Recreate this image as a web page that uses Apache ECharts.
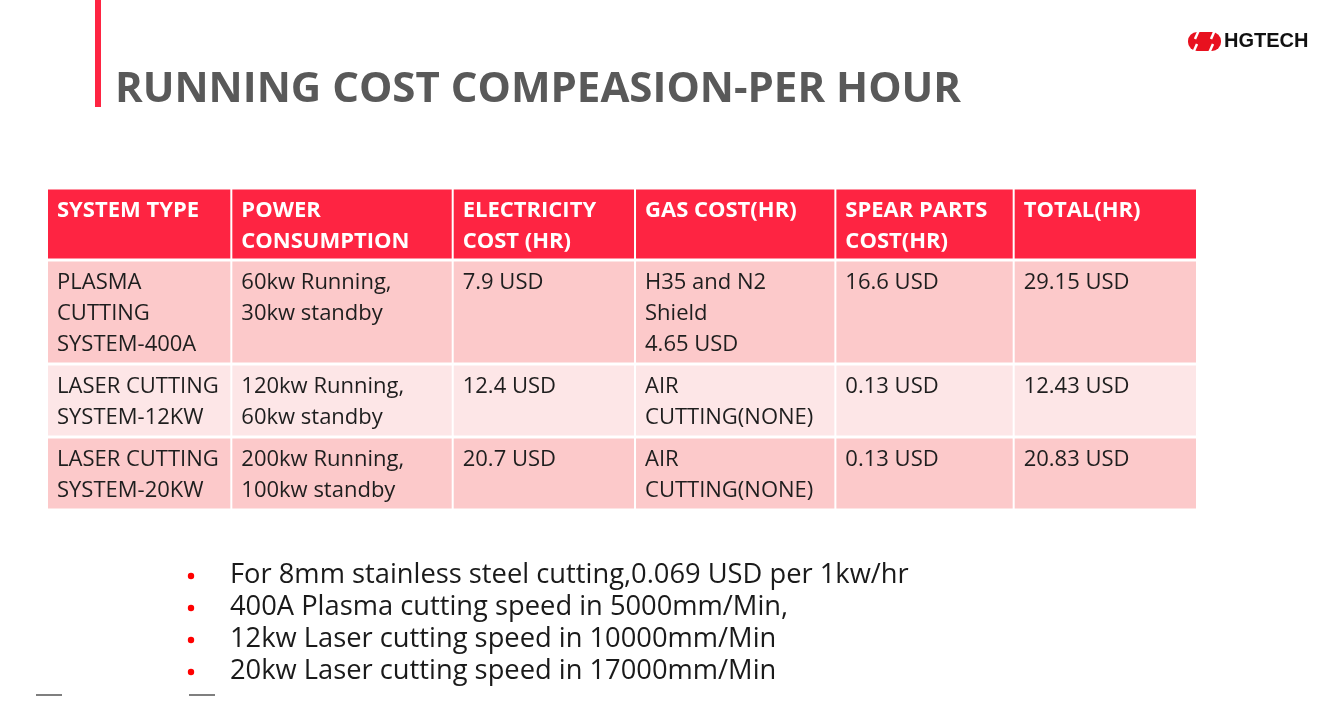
<!DOCTYPE html>
<html>
<head>
<meta charset="utf-8">
<title>Running cost comparison</title>
<script src="https://cdn.jsdelivr.net/npm/echarts@6/dist/echarts.min.js"></script>
<style>
  html, body { margin: 0; padding: 0; background: #fff; }
  #main { width: 1317px; height: 701px; }
</style>
</head>
<body>
<div id="main"></div>
<script>
// 表格内容
var titleText = 'RUNNING COST COMPEASION-PER HOUR';
var headers = ['SYSTEM TYPE', 'POWER\nCONSUMPTION', 'ELECTRICITY\nCOST (HR)', 'GAS COST(HR)', 'SPEAR PARTS\nCOST(HR)', 'TOTAL(HR)'];
var systemTypes = ['PLASMA\nCUTTING\nSYSTEM-400A', 'LASER CUTTING\nSYSTEM-12KW', 'LASER CUTTING\nSYSTEM-20KW'];
var powerConsumption = ['60kw Running,\n30kw standby', '120kw Running,\n60kw standby', '200kw Running,\n100kw standby'];
var electricityCost = ['7.9 USD', '12.4 USD', '20.7 USD'];
var gasCost = ['H35 and N2\nShield\n4.65 USD', 'AIR\nCUTTING(NONE)', 'AIR\nCUTTING(NONE)'];
var spareCost = ['16.6 USD', '0.13 USD', '0.13 USD'];
var totalCost = ['29.15 USD', '12.43 USD', '20.83 USD'];
var notes = [
    'For 8mm stainless steel cutting,0.069 USD per 1kw/hr',
    '400A Plasma cutting speed in 5000mm/Min,',
    '12kw Laser cutting speed in 10000mm/Min',
    '20kw Laser cutting speed in 17000mm/Min'
];

// 版式（列宽/行高，轴单位）
var colWidths = [184, 221, 182, 200, 178, 183];
var rowHeights = [72, 104, 73, 73];
var RED = '#fe2442';

function sum(arr, n) {
    var s = 0;
    for (var i = 0; i < n; i++) { s += arr[i]; }
    return s;
}

// 拼出单元格数据 [列, 行, 文本]
var cells = [];
for (var c = 0; c < headers.length; c++) {
    cells.push([c, 0, headers[c]]);
}
var bodyCols = [systemTypes, powerConsumption, electricityCost, gasCost, spareCost, totalCost];
for (var r = 0; r < systemTypes.length; r++) {
    for (var c = 0; c < bodyCols.length; c++) {
        cells.push([c, r + 1, bodyCols[c][r]]);
    }
}

function renderCell(params, api) {
    var col = api.value(0);
    var row = api.value(1);
    var text = cells[params.dataIndex][2];
    var x0 = sum(colWidths, col), x1 = x0 + colWidths[col];
    var y0 = sum(rowHeights, row), y1 = y0 + rowHeights[row];
    var p0 = api.coord([x0, y0]);
    var p1 = api.coord([x1, y1]);
    var fill = row === 0 ? RED : (row % 2 === 1 ? '#fcc9ca' : '#fde6e7');
    return {
        type: 'group',
        children: [
            {
                type: 'rect',
                shape: { x: p0[0] + 1, y: p0[1] + 1.5, width: p1[0] - p0[0] - 2, height: p1[1] - p0[1] - 3 },
                style: { fill: fill }
            },
            {
                type: 'text',
                x: p0[0] + 10,
                y: p0[1] + 7,
                style: {
                    text: text,
                    fill: row === 0 ? '#ffffff' : '#1e1e1e',
                    fontFamily: 'Open Sans',
                    fontWeight: row === 0 ? 'bold' : 'normal',
                    fontSize: 22,
                    lineHeight: 31,
                    align: 'left',
                    verticalAlign: 'top'
                }
            }
        ]
    };
}

var graphics = [
    { type: 'rect', left: 95, top: 0, shape: { width: 6, height: 107 }, style: { fill: RED } },
    { type: 'line', shape: { x1: 36, y1: 695, x2: 62, y2: 695 }, style: { stroke: '#7f7f7f', lineWidth: 2 } },
    { type: 'line', shape: { x1: 189, y1: 695, x2: 215, y2: 695 }, style: { stroke: '#7f7f7f', lineWidth: 2 } },
    // logo
    { type: 'rect', shape: { x: 1188, y: 32, width: 33, height: 19, r: 9 }, style: { fill: '#e8111f' } },
    { type: 'line', shape: { x1: 1199, y1: 30, x2: 1195, y2: 39 }, style: { stroke: '#fff', lineWidth: 2.5 } },
    { type: 'line', shape: { x1: 1197, y1: 44, x2: 1193, y2: 53 }, style: { stroke: '#fff', lineWidth: 2.5 } },
    { type: 'line', shape: { x1: 1215, y1: 30, x2: 1211, y2: 39 }, style: { stroke: '#fff', lineWidth: 2.5 } },
    { type: 'line', shape: { x1: 1213, y1: 44, x2: 1209, y2: 53 }, style: { stroke: '#fff', lineWidth: 2.5 } },
    {
        type: 'text', left: 1224, top: 31,
        style: { text: 'HGTECH', fill: '#111', fontFamily: 'Liberation Sans', fontWeight: 'bold', fontSize: 20 }
    }
];
for (var i = 0; i < notes.length; i++) {
    graphics.push({ type: 'circle', shape: { cx: 191, cy: 576 + i * 32, r: 3.2 }, style: { fill: '#ff0000' } });
    graphics.push({
        type: 'text', x: 230, y: 575 + i * 32,
        style: {
            text: notes[i], fill: '#1a1a1a', fontFamily: 'Open Sans', fontSize: 27.3,
            align: 'left', verticalAlign: 'middle'
        }
    });
}

var myChart = echarts.init(document.getElementById('main'), null, { renderer: 'canvas' });
var option = {
    backgroundColor: '#ffffff',
    animation: false,
    title: {
        text: titleText,
        left: 110,
        top: 64,
        textStyle: { color: '#595959', fontFamily: 'Open Sans', fontWeight: 'bold', fontSize: 42 }
    },
    grid: { left: 47, top: 188, width: 1150, height: 322 },
    xAxis: { type: 'value', min: 0, max: sum(colWidths, colWidths.length), show: false },
    yAxis: { type: 'value', min: 0, max: sum(rowHeights, rowHeights.length), inverse: true, show: false },
    series: [{
        type: 'custom',
        renderItem: renderCell,
        data: cells.map(function (d) { return [d[0], d[1]]; }),
        silent: true
    }],
    graphic: graphics
};
myChart.setOption(option);
</script>
</body>
</html>
